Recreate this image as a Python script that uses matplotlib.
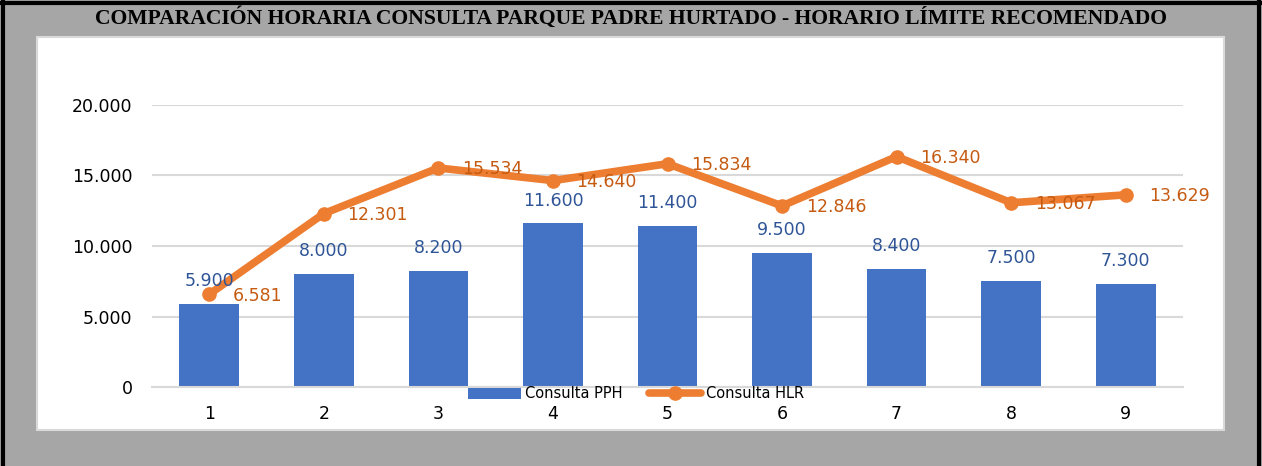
import matplotlib.pyplot as plt
from matplotlib.patches import Rectangle
from matplotlib.lines import Line2D

categories = ["1", "2", "3", "4", "5", "6", "7", "8", "9"]
pph = [5900, 8000, 8200, 11600, 11400, 9500, 8400, 7500, 7300]
hlr = [6581, 12301, 15534, 14640, 15834, 12846, 16340, 13067, 13629]
yticks = [0, 5000, 10000, 15000, 20000]

blue = "#4472C4"
orange = "#ED7D31"
W, H = 1262, 466


def fmt(v):
    return f"{v:,.0f}".replace(",", ".")


fig = plt.figure(figsize=(W / 100, H / 100), dpi=100)
fig.patch.set_facecolor("#a6a6a6")

# white chart panel and black frame
fig.patches.append(Rectangle((37 / W, 1 - 430 / H), (1224 - 37) / W, (430 - 37) / H,
                             transform=fig.transFigure, facecolor="white",
                             edgecolor="#d9d9d9", lw=1.5, zorder=-1))
for xs, ys in [([2.5 / W, 2.5 / W], [0, 1]), ([0, 1], [1 - 2.5 / H, 1 - 2.5 / H]),
               ([1 - 3 / W, 1 - 3 / W], [0, 1])]:
    fig.add_artist(Line2D(xs, ys, transform=fig.transFigure, color="black", lw=3))

fig.text(0.5, 1 - 18 / H, "COMPARACIÓN HORARIA CONSULTA PARQUE PADRE HURTADO - HORARIO LÍMITE RECOMENDADO",
         ha="center", va="center", fontsize=15.6, fontweight="bold", family="Liberation Serif")

ax = fig.add_axes([152 / W, 1 - 387 / H, (1183 - 152) / W, (387 - 105) / H])
ax.set_zorder(1)
ax.set_facecolor("none")
x = list(range(len(categories)))
bars = ax.bar(x, pph, width=0.52, color=blue, label="Consulta PPH", zorder=2)
line, = ax.plot(x, hlr, color=orange, lw=5.5, marker="o", markersize=9.5, label="Consulta HLR",
                solid_joinstyle="round", solid_capstyle="round", zorder=3)

for xi, v in zip(x, pph):
    ax.annotate(fmt(v), (xi, v), xytext=(0, 10), textcoords="offset points",
                ha="center", va="bottom", color="#2F5597", fontsize=12.5)
for xi, v in zip(x, hlr):
    ax.annotate(fmt(v), (xi, v), xytext=(17, -1), textcoords="offset points",
                ha="left", va="center", color="#C55A11", fontsize=12.5, zorder=4)

ax.set_xlim(-0.5, len(categories) - 0.5)
ax.set_ylim(0, 20000)
ax.set_yticks(yticks)
ax.set_yticklabels([fmt(v) for v in yticks], fontsize=12.5)
ax.set_xticks(x)
ax.set_xticklabels(categories, fontsize=12.5)
ax.tick_params(length=0)
ax.tick_params(axis="y", pad=14)
ax.tick_params(axis="x", pad=13)
ax.grid(axis="y", color="#d9d9d9", lw=1.5, zorder=0)
ax.set_axisbelow(True)
for s in ["top", "right", "left"]:
    ax.spines[s].set_visible(False)
ax.spines["bottom"].set_color("#d9d9d9")
ax.spines["bottom"].set_linewidth(1.5)

fig.legend([bars, line], ["Consulta PPH", "Consulta HLR"], loc="center",
           bbox_to_anchor=(636 / W, 1 - 394 / H), ncol=2, frameon=False,
           fontsize=10.5, handlelength=3.6, handletextpad=0.3, columnspacing=1.8,
           borderpad=0, borderaxespad=0)

fig.savefig("out.png", dpi=100, facecolor=fig.get_facecolor())
